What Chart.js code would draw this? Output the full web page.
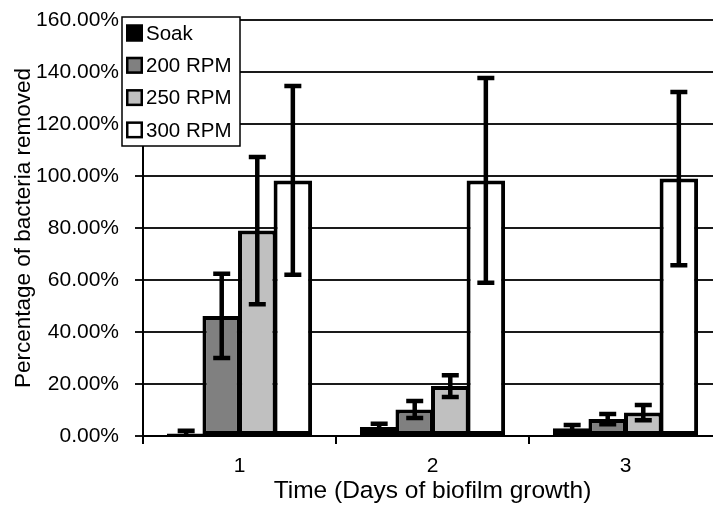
<!DOCTYPE html>
<html><head><meta charset="utf-8">
<script src="https://cdn.jsdelivr.net/npm/chart.js@4.4.0/dist/chart.umd.min.js"></script>
<style>
html,body{margin:0;padding:0;background:#fff;overflow:hidden;width:713px;height:506px}
#wrap{position:absolute;left:0;top:0;width:724px;height:506px}
</style>
</head><body>
<div id="wrap"><canvas id="c" width="724" height="506"></canvas></div>
<script>
// ---- data ----
const categories = ['1', '2', '3'];
const seriesNames = ['Soak', '200 RPM', '250 RPM', '300 RPM'];
const soak      = [1.0, 3.5, 3.0];
const rpm200    = [46.2, 10.2, 6.5];
const rpm250    = [79.0, 19.2, 9.0];
const rpm300    = [98.3, 98.3, 99.0];
const soakErr   = [1.0, 1.2, 1.2];
const rpm200Err = [16.2, 3.3, 2.0];
const rpm250Err = [28.3, 4.2, 2.9];
const rpm300Err = [36.3, 39.4, 33.3];
const yMin = 0, yMax = 160, yStep = 20;
const xTitle = 'Time (Days of biofilm growth)';
const yTitle = 'Percentage of bacteria removed';

const FONT = '"Liberation Sans", Arial, Helvetica, sans-serif';
const fills = ['#000000', '#808080', '#c0c0c0', '#ffffff'];
const values = [soak, rpm200, rpm250, rpm300];
const errs = [soakErr, rpm200Err, rpm250Err, rpm300Err];

const datasets = seriesNames.map((name, i) => ({
  label: name,
  data: values[i],
  errors: errs[i],
  backgroundColor: fills[i],
  borderColor: '#000',
  borderWidth: 4,
  borderSkipped: false,
  barPercentage: 1.083,
  categoryPercentage: 0.737
}));

const errorBars = {
  id: 'errorBars',
  afterDatasetsDraw(chart) {
    const ctx = chart.ctx, ys = chart.scales.y, ca = chart.chartArea;
    ctx.save();
    ctx.beginPath();
    ctx.rect(ca.left, ca.top - 10, ca.right - ca.left, ca.bottom - ca.top + 10);
    ctx.clip();
    ctx.strokeStyle = '#000';
    ctx.lineWidth = 4.5;
    ctx.lineCap = 'butt';
    chart.data.datasets.forEach((ds, i) => {
      const meta = chart.getDatasetMeta(i);
      meta.data.forEach((bar, j) => {
        const v = ds.data[j], e = ds.errors[j];
        const x = bar.x;
        const yt = ys.getPixelForValue(v + e);
        const yb = ys.getPixelForValue(v - e);
        const half = 8.5;
        ctx.beginPath();
        ctx.moveTo(x, yt); ctx.lineTo(x, yb);
        ctx.moveTo(x - half, yt); ctx.lineTo(x + half, yt);
        ctx.moveTo(x - half, yb); ctx.lineTo(x + half, yb);
        ctx.stroke();
      });
    });
    ctx.restore();
  }
};

const boxLegend = {
  id: 'boxLegend',
  afterDraw(chart) {
    const ctx = chart.ctx;
    const bx = 122, by = 17, bw = 118, bh = 129;
    ctx.save();
    ctx.fillStyle = '#fff';
    ctx.fillRect(bx, by, bw, bh);
    ctx.strokeStyle = '#000';
    ctx.lineWidth = 1.5;
    ctx.strokeRect(bx, by, bw, bh);
    ctx.font = '20.5px ' + FONT;
    ctx.textBaseline = 'middle';
    ctx.textAlign = 'left';
    chart.data.datasets.forEach((ds, i) => {
      const cy = by + 16 + i * 32.3;
      ctx.fillStyle = ds.backgroundColor;
      ctx.fillRect(126, cy - 8.5, 17, 17);
      ctx.lineWidth = 2.5;
      ctx.strokeStyle = '#000';
      ctx.strokeRect(127.25, cy - 7.25, 14.5, 14.5);
      ctx.fillStyle = '#000';
      ctx.fillText(ds.label, 146, cy + 1);
    });
    ctx.restore();
  }
};

new Chart(document.getElementById('c'), {
  type: 'bar',
  data: { labels: categories, datasets },
  plugins: [errorBars, boxLegend],
  options: {
    responsive: false,
    animation: false,
    events: [],
    layout: { padding: { top: 20, right: 2, left: 0, bottom: 0 } },
    plugins: { legend: { display: false }, tooltip: { enabled: false } },
    scales: {
      x: {
        offset: true,
        grid: { display: true, drawOnChartArea: false, drawTicks: true, tickLength: 8, color: '#000', lineWidth: 2, offset: true },
        border: { display: true, color: '#000', width: 2 },
        ticks: { color: '#000', font: { family: FONT, size: 21 }, padding: 10 },
        title: { display: true, text: xTitle, color: '#000', font: { family: FONT, size: 24.5 }, padding: { top: 0, bottom: 0 } },
        afterFit(s) { s.height = 70; s.paddingLeft = 0; s.paddingRight = 0; }
      },
      y: {
        min: yMin, max: yMax,
        ticks: {
          stepSize: yStep, color: '#000', font: { family: FONT, size: 21 }, padding: 16,
          callback: v => v.toFixed(2) + '%'
        },
        grid: { color: '#1a1a1a', lineWidth: 2, tickLength: 8, drawTicks: true },
        border: { display: true, color: '#000', width: 2 },
        title: { display: true, text: yTitle, color: '#000', font: { family: FONT, size: 22.5 }, padding: { top: 10, bottom: 0 } },
        afterFit(s) { s.width = 143; s.paddingTop = 0; s.paddingBottom = 0; }
      }
    }
  }
});
</script>
</body></html>
